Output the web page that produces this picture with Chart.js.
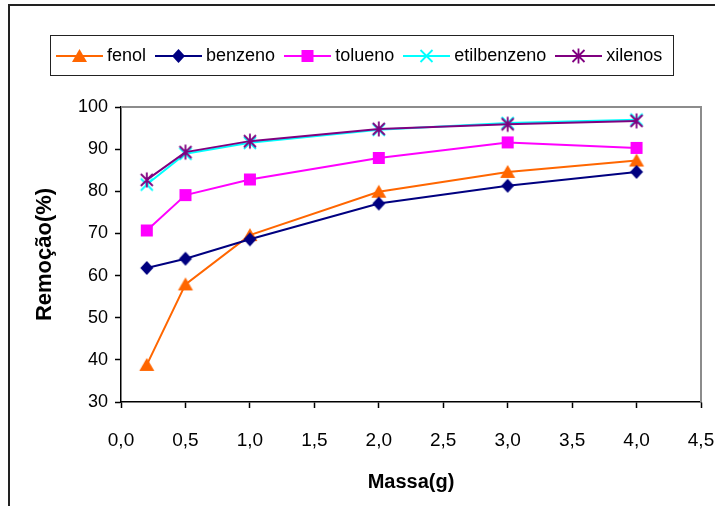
<!DOCTYPE html>
<html>
<head>
<meta charset="utf-8">
<script src="https://cdn.jsdelivr.net/npm/chart.js@4/dist/chart.umd.min.js"></script>
<style>
  body { margin: 0; background: #fff; }
  #wrap { position: relative; width: 715px; height: 506px; overflow: hidden; font-family: 'Liberation Sans', Arial, sans-serif; }
  #frame { position: absolute; left: 8px; top: 4px; width: 720px; height: 520px; border-top: 2px solid #222; border-left: 2px solid #222; }
  #legend { position: absolute; left: 50px; top: 35px; width: 617px; height: 39px; border: 1.5px solid #222; display: flex; align-items: center; padding-left: 5px; box-sizing: content-box; }
  #legend .item { display: flex; align-items: center; margin-right: 9px; }
  #legend span { margin-left: 4px; font-size: 18px; color: #000; }
  #chart { position: absolute; left: 0; top: 0; }
</style>
</head>
<body>
<div id="wrap">
  <div id="frame"></div>
  <canvas id="chart" width="715" height="506"></canvas>
  <div id="legend"></div>
</div>
<script>
// mass of adsorbent (g) and removal (%) for each compound
const massa = [0.2, 0.5, 1.0, 2.0, 3.0, 4.0];
const fenol = [38.8, 57.9, 69.6, 79.9, 84.6, 87.3];
const benzeno = [61.8, 64.0, 68.6, 77.1, 81.3, 84.6];
const tolueno = [70.7, 79.1, 82.8, 87.9, 91.6, 90.3];
const etilbenzeno = [81.6, 88.9, 91.5, 94.6, 96.2, 97.0];
const xilenos = [82.7, 89.3, 91.9, 94.8, 95.9, 96.7];

const seriesNames = ['fenol', 'benzeno', 'tolueno', 'etilbenzeno', 'xilenos'];
const seriesValues = [fenol, benzeno, tolueno, etilbenzeno, xilenos];
const seriesColors = ['#FF6600', '#000080', '#FF00FF', '#00FFFF', '#800080'];
const seriesMarkers = ['triangle', 'diamond', 'square', 'x', 'asterisk'];

function drawMarker(ctx, kind, color, cx, cy) {
    ctx.save();
    ctx.fillStyle = color;
    ctx.strokeStyle = color;
    ctx.lineWidth = 1.8;
    ctx.beginPath();
    if (kind === 'triangle') {
        ctx.moveTo(cx, cy - 7);
        ctx.lineTo(cx + 7.5, cy + 6);
        ctx.lineTo(cx - 7.5, cy + 6);
        ctx.closePath();
        ctx.fill();
    } else if (kind === 'diamond') {
        ctx.moveTo(cx, cy - 7);
        ctx.lineTo(cx + 6.5, cy);
        ctx.lineTo(cx, cy + 7);
        ctx.lineTo(cx - 6.5, cy);
        ctx.closePath();
        ctx.fill();
    } else if (kind === 'square') {
        ctx.fillRect(cx - 6, cy - 6, 12, 12);
    } else {
        const r = 6;
        ctx.moveTo(cx - r, cy - r); ctx.lineTo(cx + r, cy + r);
        ctx.moveTo(cx + r, cy - r); ctx.lineTo(cx - r, cy + r);
        if (kind === 'asterisk') {
            ctx.moveTo(cx, cy - r - 1.5); ctx.lineTo(cx, cy + r + 1.5);
        }
        ctx.stroke();
    }
    ctx.restore();
}

function markerImage(kind, color) {
    const c = document.createElement('canvas');
    c.width = 18; c.height = 18;
    drawMarker(c.getContext('2d'), kind, color, 9, 9);
    return c;
}

Chart.defaults.font.family = "'Liberation Sans', Arial, sans-serif";
Chart.defaults.color = '#000';

// grey border on the top and right of the plot area
const plotFrame = {
    id: 'plotFrame',
    beforeDatasetsDraw(chart) {
        const { ctx, chartArea: a } = chart;
        ctx.save();
        ctx.strokeStyle = '#8c8c8c';
        ctx.lineWidth = 2;
        ctx.beginPath();
        ctx.moveTo(a.left, a.top);
        ctx.lineTo(a.right, a.top);
        ctx.lineTo(a.right, a.bottom);
        ctx.stroke();
        ctx.restore();
    }
};

const datasets = seriesNames.map((name, i) => ({
    label: name,
    data: massa.map((m, j) => ({ x: m, y: seriesValues[i][j] })),
    borderColor: seriesColors[i],
    backgroundColor: seriesColors[i],
    borderWidth: 2,
    pointStyle: markerImage(seriesMarkers[i], seriesColors[i]),
    tension: 0,
    order: seriesNames.length - i,
}));

new Chart(document.getElementById('chart'), {
    type: 'line',
    data: { datasets },
    options: {
        responsive: false,
        animation: false,
        events: [],
        layout: { padding: { top: 107, right: 14, left: 0, bottom: 0 } },
        plugins: { legend: { display: false }, tooltip: { enabled: false } },
        scales: {
            x: {
                type: 'linear',
                min: 0,
                max: 4.5,
                afterFit: (s) => {
                    s.height = 104;
                    s.paddingLeft = 0;
                    s.paddingRight = 0;
                },
                ticks: {
                    stepSize: 0.5,
                    padding: 21,
                    font: { size: 19 },
                    callback: (v) => v.toFixed(1).replace('.', ','),
                },
                grid: { drawOnChartArea: false, tickLength: 6, color: '#000', tickWidth: 1.5 },
                border: { color: '#000', width: 1.5 },
                title: { display: true, text: 'Massa(g)', font: { size: 20, weight: 'bold' }, padding: { bottom: 12 } },
            },
            y: {
                min: 30,
                max: 100,
                afterFit: (s) => { s.width = 121; },
                ticks: { stepSize: 10, padding: 7, font: { size: 18 } },
                grid: { drawOnChartArea: false, tickLength: 6, color: '#000', tickWidth: 1.5 },
                border: { color: '#000', width: 1.5 },
                title: { display: true, text: 'Remoção(%)', font: { size: 22, weight: 'bold' }, padding: { top: 32 } },
            },
        },
    },
    plugins: [plotFrame],
});

// legend: line sample with marker, then the series name
const legend = document.getElementById('legend');
seriesNames.forEach((name, i) => {
    const item = document.createElement('div');
    item.className = 'item';
    const c = document.createElement('canvas');
    c.width = 47; c.height = 20;
    const ctx = c.getContext('2d');
    ctx.strokeStyle = seriesColors[i];
    ctx.lineWidth = 2;
    ctx.beginPath();
    ctx.moveTo(0, 10);
    ctx.lineTo(47, 10);
    ctx.stroke();
    drawMarker(ctx, seriesMarkers[i], seriesColors[i], 23.5, 10);
    const label = document.createElement('span');
    label.textContent = name;
    item.appendChild(c);
    item.appendChild(label);
    legend.appendChild(item);
});
</script>
</body>
</html>
